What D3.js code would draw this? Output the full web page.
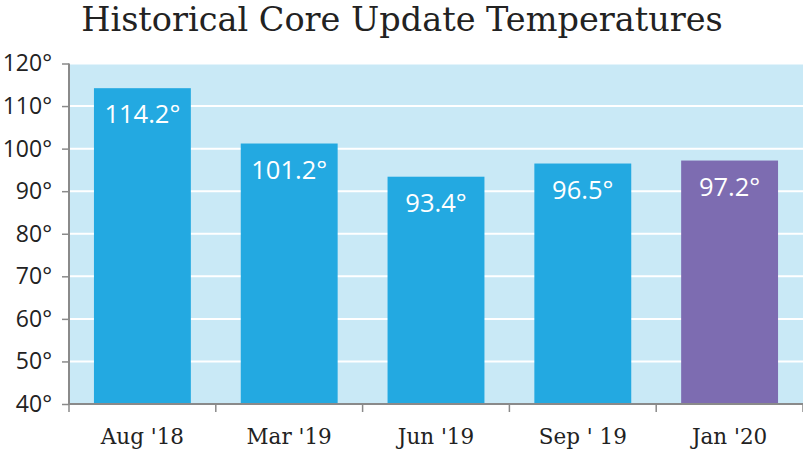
<!DOCTYPE html>
<html>
<head>
<meta charset="utf-8">
<script src="https://cdn.jsdelivr.net/npm/d3@7/dist/d3.min.js"></script>
<style>
body{margin:0;background:white;}
svg{display:block;}
</style>
</head>
<body>
<div id="chart"></div>
<script>
var months = ["Aug '18","Mar '19","Jun '19","Sep ' 19","Jan '20"]
var temps = [114.2,101.2,93.4,96.5,97.2]
var yTicks = [40,50,60,70,80,90,100,110,120]

var W = 803, H = 450
var plotL = 69, plotR = 803, plotT = 63.5, plotB = 404
var blue = "#23a9e1", purple = "#7d6cb1", bg = "#c9e9f6", axisColor = "#8a8a8a"

var svg = d3.select("#chart").append("svg")
.attr("width",W)
.attr("height",H)

var x = d3.scaleBand().domain(months).range([plotL,plotR]).paddingInner(0.34).paddingOuter(0.17)
var y = d3.scaleLinear().domain([40,120]).range([plotB,plotT])

// plot background
svg.append("rect")
.attr("x",plotL).attr("y",plotT)
.attr("width",plotR-plotL).attr("height",plotB-plotT)
.attr("fill",bg)

// gridlines
svg.selectAll(".grid")
.data(yTicks.slice(1))
.enter()
.append("line")
.attr("x1",plotL).attr("x2",plotR)
.attr("y1",function(d){return y(d)}).attr("y2",function(d){return y(d)})
.attr("stroke","white")
.attr("stroke-width",2)

// bars
svg.selectAll(".bar")
.data(temps)
.enter()
.append("rect")
.attr("x",function(d,i){return x(months[i])})
.attr("width",x.bandwidth())
.attr("y",function(d){return y(d)})
.attr("height",function(d){return plotB-y(d)})
.attr("fill",function(d,i){return i==4 ? purple : blue})

// value labels
svg.selectAll(".val")
.data(temps)
.enter()
.append("text")
.text(function(d){return d.toFixed(1)+"°"})
.attr("x",function(d,i){return x(months[i])+x.bandwidth()/2})
.attr("y",function(d){return y(d)+35})
.attr("text-anchor","middle")
.attr("fill","white")
.attr("font-family","'Open Sans',sans-serif")
.attr("font-size",25.5)

// y axis
var yAxis = svg.append("g")
.attr("transform","translate("+plotL+",0)")
.call(d3.axisLeft(y).tickValues(yTicks).tickSize(7).tickPadding(10).tickFormat(function(d){return d+"°"}))
yAxis.selectAll("text")
.attr("font-family","'Open Sans',sans-serif")
.attr("font-size",23)
.attr("fill","#222")
yAxis.selectAll("line").attr("stroke",axisColor).attr("stroke-width",1.5)
yAxis.select(".domain").attr("stroke",axisColor).attr("stroke-width",2)
.attr("d","M0,"+plotT+"V"+plotB)

// x axis
var xAxis = svg.append("g")
.attr("transform","translate(0,"+plotB+")")
.call(d3.axisBottom(x).tickSize(0).tickPadding(25))
xAxis.selectAll("text")
.attr("font-family","'DejaVu Serif',serif")
.attr("font-size",21.5)
.attr("fill","#222")
xAxis.select(".domain").attr("stroke",axisColor).attr("stroke-width",2)
.attr("d","M"+plotL+",0H"+plotR)

// band separators below axis
svg.selectAll(".sep")
.data(d3.range(months.length+1))
.enter()
.append("line")
.attr("x1",function(d){return plotL+d*(plotR-plotL)/months.length})
.attr("x2",function(d){return plotL+d*(plotR-plotL)/months.length})
.attr("y1",plotB).attr("y2",plotB+8)
.attr("stroke",axisColor)
.attr("stroke-width",1.5)

// title
svg.append("text")
.text("Historical Core Update Temperatures")
.attr("x",402)
.attr("y",31)
.attr("text-anchor","middle")
.attr("font-family","'DejaVu Serif',serif")
.attr("font-size",33.5)
.attr("fill","#222")
</script>
</body>
</html>
